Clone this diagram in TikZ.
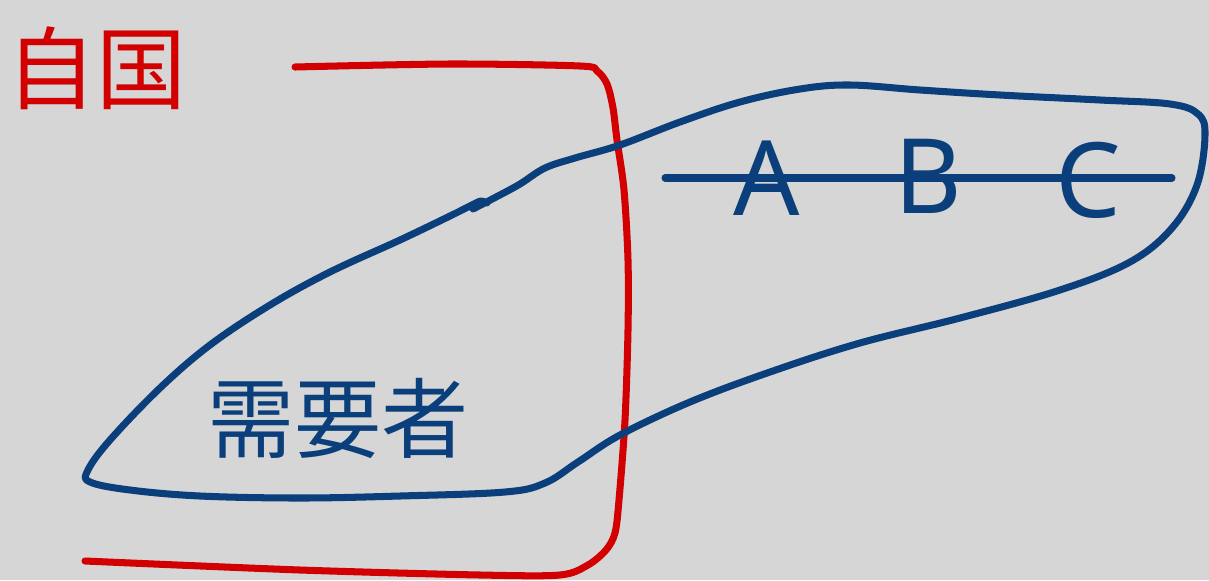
\documentclass[tikz,border=0pt]{standalone}
\usepackage{fontspec}
\newfontfamily\jpfont{Noto Sans CJK JP}
\newfontfamily\latinfont{Noto Sans}
\definecolor{sketchred}{HTML}{D20000}
\definecolor{sketchblue}{HTML}{0A3F7C}
\definecolor{paper}{HTML}{D6D6D6}
\tikzset{
  redpen/.style={draw=sketchred, line width=5pt, line cap=round, line join=round},
  bluepen/.style={draw=sketchblue, line width=5pt, line cap=round, line join=round},
  redword/.style={text=sketchred, font=\jpfont\fontsize{64}{64}\selectfont, inner sep=0pt},
  blueword/.style={text=sketchblue, font=\jpfont\fontsize{62}{62}\selectfont, inner sep=0pt},
  letter/.style={text=sketchblue, font=\latinfont\fontsize{74}{74}\selectfont, inner sep=0pt}
}
\begin{document}
\begin{tikzpicture}[x=0.025cm,y=-0.025cm]
  \useasboundingbox (0,0) rectangle (1209,580);
  \fill[paper] (0,0) rectangle (1209,580);
  % own country frame
  \draw[redpen] plot[smooth, tension=0.5] coordinates {
    (295,67) (450,64) (580,66) (597,71) (607,84) (613,108) (617,140) (624,190)
    (628,260) (628,330) (625,420) (619,500) (615,533) (606,550)
    (588,565) (560,575) (480,575) (300,570) (85,561)};
  % demand blob
  \draw[bluepen] plot[smooth, tension=0.6] coordinates {
    (473,209) (498,196) (520,184) (545,168) (575,158) (620,145) (680,122)
    (740,102) (800,89) (850,85) (920,90) (1000,95) (1100,100) (1170,104)
    (1198,114) (1205,135) (1197,185) (1172,228) (1130,262) (1060,290)
    (960,318) (860,343) (770,372) (690,402) (620,435) (578,462) (545,483)
    (505,492) (400,496) (300,498) (200,496) (130,490) (90,482) (88,470)
    (110,440) (160,388) (210,345) (270,305) (330,272) (400,240) (450,216)
    (470,206) (481,201) (487,203)};
  % labels
  \node[redword] (jikoku) at (96,68) {自国};
  \node[blueword] (juyousha) at (338,418) {需要者};
  \node[letter] (a) at (767,178) {A};
  \node[letter] (b) at (928,176) {B};
  \node[letter] (c) at (1088,180) {C};
  \coordinate (lineL) at (665,178);
  \coordinate (lineR) at (1172,178);
  \draw[bluepen] (lineL) -- (lineR);
\end{tikzpicture}
\end{document}
